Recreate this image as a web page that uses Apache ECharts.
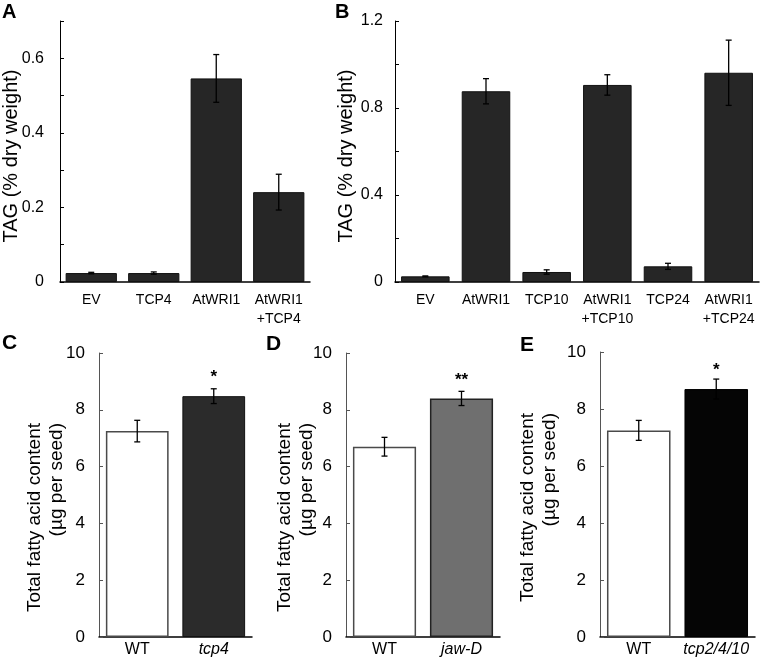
<!DOCTYPE html>
<html>
<head>
<meta charset="utf-8">
<script src="https://cdn.jsdelivr.net/npm/echarts@6/dist/echarts.min.js"></script>
<style>
html,body{margin:0;padding:0;background:#fff;}
#chart{width:762px;height:663px;}
</style>
</head>
<body>
<div id="chart"></div>
<script>
// ---- data ----
const aCats = ['EV', 'TCP4', 'AtWRI1', 'AtWRI1\n+TCP4'];
const aMean = [0.024, 0.024, 0.546, 0.241];
const aErr  = [0.002, 0.003, 0.064, 0.048];
const aTickLabels = ['0', '0.2', '0.4', '0.6'];

const bCats = ['EV', 'AtWRI1', 'TCP10', 'AtWRI1\n+TCP10', 'TCP24', 'AtWRI1\n+TCP24'];
const bMean = [0.026, 0.877, 0.046, 0.906, 0.072, 0.962];
const bErr  = [0.002, 0.058, 0.010, 0.047, 0.014, 0.150];
const bTickLabels = ['0', '0.4', '0.8', '1.2'];

const cCats = ['WT', 'tcp4'];
const cMean = [7.25, 8.48];
const cErr  = [0.38, 0.26];
const cSig  = ['', '*'];

const dCats = ['WT', 'jaw-D'];
const dMean = [6.70, 8.40];
const dErr  = [0.33, 0.25];
const dSig  = ['', '**'];

const eCats = ['WT', 'tcp2/4/10'];
const eMean = [7.25, 8.70];
const eErr  = [0.35, 0.35];
const eSig  = ['', '*'];

// ---- styles ----
const FONT = 'Liberation Sans, Arial, sans-serif';
const darkBar = {color: '#262626', borderColor: '#111', borderWidth: 1};
const whiteBar = {color: '#ffffff', borderColor: '#4a4a4a', borderWidth: 1.5};
const cColors = [whiteBar, {color: '#2b2b2b', borderColor: '#111', borderWidth: 1}];
const dColors = [whiteBar, {color: '#6f6f6f', borderColor: '#222', borderWidth: 1.5}];
const eColors = [whiteBar, {color: '#050505', borderColor: '#000', borderWidth: 1}];

const grids = [
  {left: 60, top: 21, width: 250, height: 261},
  {left: 395, top: 21, width: 364, height: 261},
  {left: 99, top: 353, width: 153, height: 284},
  {left: 346, top: 353, width: 154, height: 284},
  {left: 600, top: 352, width: 155, height: 285}
];

function xAxis(idx, cats, fs, italicIdx) {
  return {
    type: 'category', gridIndex: idx,
    data: cats.map((c, i) => italicIdx && italicIdx.indexOf(i) >= 0
      ? {value: c, textStyle: {fontStyle: 'italic'}} : c),
    axisLine: {lineStyle: {color: '#000', width: 1.5}},
    axisTick: {show: false},
    axisLabel: {color: '#000', fontFamily: FONT, fontSize: fs, margin: idx < 2 ? 9 : 4,
      lineHeight: idx < 2 ? 19 : 18, interval: 0},
    splitLine: {show: false}
  };
}
function yAxis(idx, max, interval, labels, lineColor, fs, margin) {
  return {
    type: 'value', gridIndex: idx, min: 0, max: max, interval: interval,
    axisLine: {show: true, lineStyle: {color: lineColor, width: 1}},
    axisTick: {show: true, inside: true, length: 4, lineStyle: {color: lineColor}},
    splitLine: {show: false},
    axisLabel: {color: '#000', fontFamily: FONT, fontSize: fs, margin: margin,
      showMaxLabel: true, showMinLabel: true,
      formatter: function (v) {
        const s = String(+(+v).toFixed(2));
        return labels.indexOf(s) >= 0 ? s : '';
      }}
  };
}

function barSeries(idx, means, styles, gap) {
  return {
    type: 'bar', xAxisIndex: idx, yAxisIndex: idx, barCategoryGap: gap,
    data: means.map((m, i) => ({value: m, itemStyle: styles[i]})),
    silent: true, animation: false
  };
}
function errSeries(idx, means, errs, sig, sigGap) {
  return {
    type: 'custom', xAxisIndex: idx, yAxisIndex: idx, z: 5, animation: false, silent: true,
    data: means.map((m, i) => [i, m, errs[i]]),
    renderItem: function (params, api) {
      const i = api.value(0), m = api.value(1), e = api.value(2);
      const top = api.coord([i, m + e]);
      const bot = api.coord([i, m - e]);
      const cap = 3;
      const st = {stroke: '#000', lineWidth: 1.3};
      const children = [
        {type: 'line', shape: {x1: top[0], y1: top[1], x2: bot[0], y2: bot[1]}, style: st},
        {type: 'line', shape: {x1: top[0] - cap, y1: top[1], x2: top[0] + cap, y2: top[1]}, style: st},
        {type: 'line', shape: {x1: bot[0] - cap, y1: bot[1], x2: bot[0] + cap, y2: bot[1]}, style: st}
      ];
      if (sig && sig[params.dataIndex]) {
        children.push({type: 'text', x: top[0], y: top[1] - sigGap,
          style: {text: sig[params.dataIndex], fill: '#000', font: 'bold 17px ' + FONT,
            align: 'center', verticalAlign: 'bottom'}});
      }
      return {type: 'group', children: children};
    }
  };
}

function label(text, x, y, size) {
  return {type: 'text', x: x, y: y, style: {text: text, fill: '#000',
    font: 'bold ' + size + 'px ' + FONT, align: 'left', verticalAlign: 'middle'}};
}
function ytitle(text, x, y, align, size) {
  return {type: 'text', x: x, y: y, rotation: Math.PI / 2,
    style: {text: text, fill: '#000', font: size + 'px ' + FONT, align: align,
      verticalAlign: 'middle', lineHeight: 22}};
}

const option = {
  backgroundColor: '#fff',
  animation: false,
  grid: grids,
  xAxis: [
    xAxis(0, aCats, 14), xAxis(1, bCats, 14),
    xAxis(2, cCats, 16, [1]), xAxis(3, dCats, 16, [1]), xAxis(4, eCats, 16, [1])
  ],
  yAxis: [
    yAxis(0, 0.7, 0.1, aTickLabels, '#000', 16, 16),
    yAxis(1, 1.2, 0.2, bTickLabels, '#000', 16, 12),
    yAxis(2, 10, 2, ['0','2','4','6','8','10'], '#555', 17, 14),
    yAxis(3, 10, 2, ['0','2','4','6','8','10'], '#555', 17, 14),
    yAxis(4, 10, 2, ['0','2','4','6','8','10'], '#555', 17, 14)
  ],
  series: [
    barSeries(0, aMean, aMean.map(() => darkBar), '18%'),
    barSeries(1, bMean, bMean.map(() => darkBar), '20%'),
    barSeries(2, cMean, cColors, '18%'),
    barSeries(3, dMean, dColors, '18%'),
    barSeries(4, eMean, eColors, '18%'),
    errSeries(0, aMean, aErr), errSeries(1, bMean, bErr),
    errSeries(2, cMean, cErr, cSig, 3), errSeries(3, dMean, dErr, dSig, 3), errSeries(4, eMean, eErr, eSig, 0)
  ],
  graphic: [
    label('A', 2, 12, 20), label('B', 335, 12, 20),
    label('C', 2, 343, 21), label('D', 266, 344, 21), label('E', 520, 345, 21),
    ytitle('TAG (% dry weight)', 11, 156, 'center', 20),
    ytitle('TAG (% dry weight)', 346, 156, 'center', 20),
    ytitle('Total fatty acid content\n(µg per seed)', 46, 423, 'right', 19),
    ytitle('Total fatty acid content\n(µg per seed)', 296, 423, 'right', 19),
    ytitle('Total fatty acid content\n(µg per seed)', 539, 413, 'right', 19)
  ]
};

const chart = echarts.init(document.getElementById('chart'), null, {renderer: 'canvas'});
chart.setOption(option);
</script>
</body>
</html>
